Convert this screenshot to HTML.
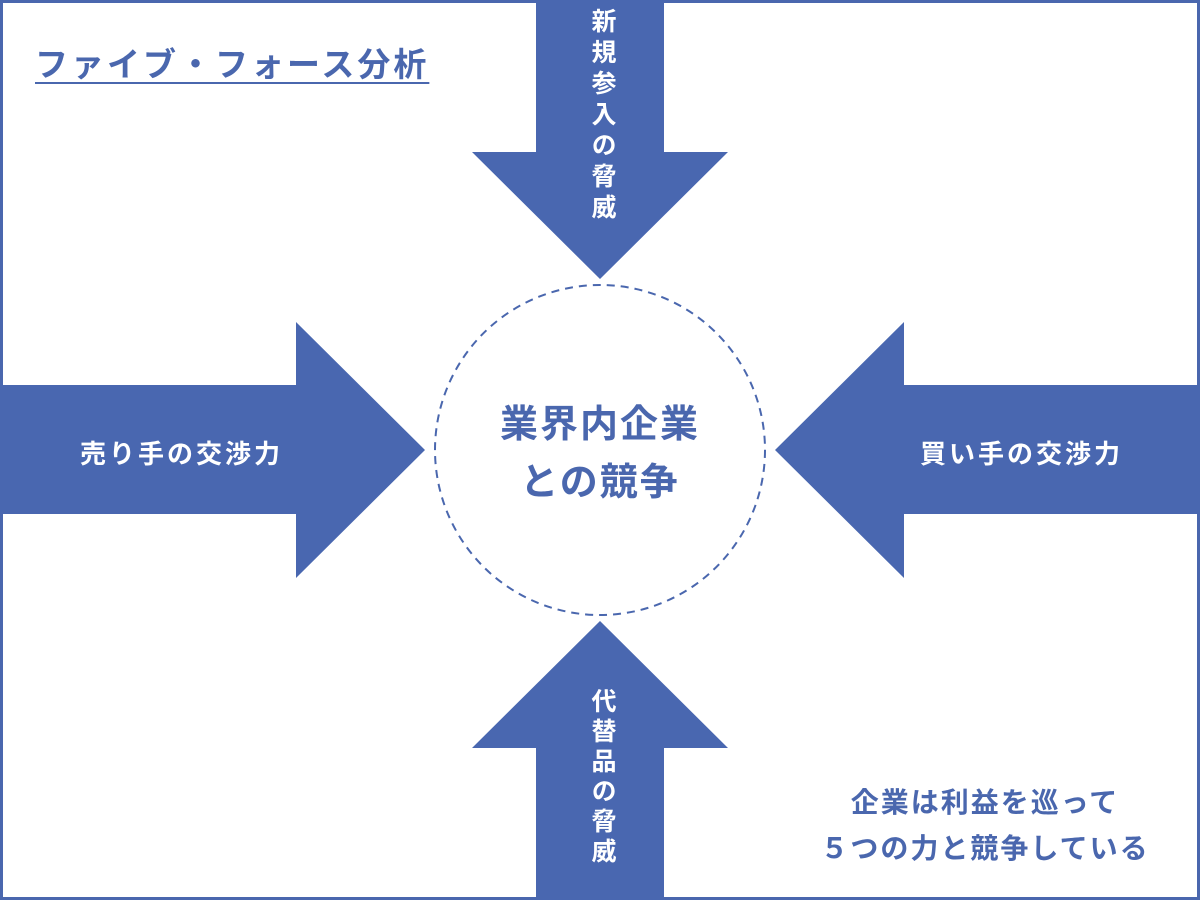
<!DOCTYPE html>
<html><head><meta charset="utf-8"><style>
body{margin:0;width:1200px;height:900px;overflow:hidden;background:#fff;font-family:"Liberation Sans","Noto Sans CJK JP",sans-serif;}
.t{position:absolute;white-space:nowrap;}
</style></head><body>
<svg width="1200" height="900" style="position:absolute;left:0;top:0">
<rect x="1.5" y="1.5" width="1197" height="897" fill="#fff" stroke="#4a67ae" stroke-width="3"/>
<g fill="#4967b0">
<polygon points="536,0 664,0 664,152 728,152 600,279 472,152 536,152"/>
<polygon points="536,900 664,900 664,748 728,748 600,621 472,748 536,748"/>
<polygon points="0,385 296,385 296,322 425,450 296,578 296,514 0,514"/>
<polygon points="1200,385 904,385 904,322 775,450 904,578 904,514 1200,514"/>
</g>
<circle cx="600" cy="450" r="165" fill="none" stroke="#4a67ae" stroke-width="2" stroke-dasharray="8,6"/>
</svg>
<div class="t" style="left:35px;top:38px;font-size:33px;font-weight:bold;color:#4a67ae;letter-spacing:3px;text-decoration:underline;text-underline-offset:6px;text-decoration-thickness:2px;">ファイブ・フォース分析</div>
<div class="t" style="left:584px;top:8px;writing-mode:vertical-rl;font-size:25px;font-weight:bold;letter-spacing:6px;color:#fff;">新規参入の脅威</div>
<div class="t" style="left:584px;top:688px;writing-mode:vertical-rl;font-size:25px;font-weight:bold;letter-spacing:5px;color:#fff;">代替品の脅威</div>
<div class="t" style="left:80px;top:434px;font-size:26px;font-weight:bold;letter-spacing:3px;color:#fff;">売り手の交渉力</div>
<div class="t" style="left:920px;top:434px;font-size:26px;font-weight:bold;letter-spacing:3px;color:#fff;">買い手の交渉力</div>
<div class="t" style="left:450px;top:396px;width:300px;text-align:center;font-size:38px;font-weight:bold;line-height:58px;color:#4a67ae;letter-spacing:2px;">業界内企業<br>との競争</div>
<div class="t" style="left:800px;top:780px;width:370px;text-align:center;font-size:28px;font-weight:bold;line-height:46px;color:#4a67ae;letter-spacing:2px;">企業は利益を巡って<br>５つの力と競争している</div>
</body></html>
